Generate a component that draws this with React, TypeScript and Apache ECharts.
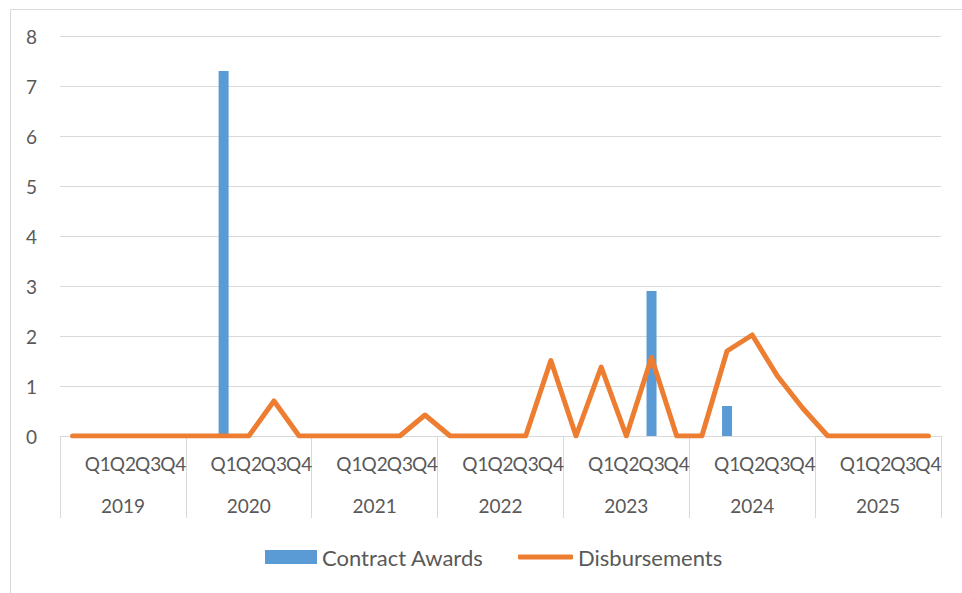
import React, { useEffect, useRef } from "react";
import * as echarts from "echarts";

const years = ["2019", "2020", "2021", "2022", "2023", "2024", "2025"];
const quarterSlots = ["", "Q1", "Q2", "Q3", "Q4"];
// 5 slots per year: a blank slot, then Q1..Q4
const contractAwards = [
  0, 0, 0, 0, 0,
  0, 7.3, 0, 0, 0,
  0, 0, 0, 0, 0,
  0, 0, 0, 0, 0,
  0, 0, 0, 2.9, 0,
  0, 0.6, 0, 0, 0,
  0, 0, 0, 0, 0,
];
const disbursements = [
  0, 0, 0, 0, 0,
  0, 0, 0, 0.7, 0,
  0, 0, 0, 0, 0.42,
  0, 0, 0, 0, 1.51,
  0, 1.38, 0, 1.57, 0,
  0, 1.7, 2.02, 1.2, 0.56,
  0, 0, 0, 0, 0,
];
const yTicks = { min: 0, max: 8, interval: 1 };

const FONT = "Lato, 'Noto Sans', sans-serif";
const TEXT = "#595959";
const GRID = "#d9d9d9";

export default function App() {
  const ref = useRef<HTMLDivElement>(null);
  useEffect(() => {
    if (!ref.current) return;
    const chart = echarts.init(ref.current, undefined, { renderer: "svg" });
    const slotLabels: string[] = [];
    years.forEach(() => quarterSlots.forEach((q) => slotLabels.push(q)));
    chart.setOption({
      animation: false,
      textStyle: { fontFamily: FONT },
      grid: { left: 60, right: 21, top: 36, bottom: 157, containLabel: false },
      legend: [
        {
          data: [{ name: "Contract Awards", icon: "rect" }],
          left: 260,
          top: 541,
          padding: 5,
          itemWidth: 52,
          itemHeight: 14,
          itemGap: 0,
          textStyle: { color: TEXT, fontSize: 22, fontFamily: FONT },
        },
        {
          data: [{ name: "Disbursements", icon: "roundRect", itemStyle: { color: "#ED7D31", borderWidth: 0 } }],
          left: 513,
          top: 541,
          padding: 5,
          itemWidth: 55,
          itemHeight: 5,
          textStyle: { color: TEXT, fontSize: 22, fontFamily: FONT },
        },
      ],
      xAxis: [
        {
          type: "category",
          data: slotLabels,
          position: "bottom",
          boundaryGap: true,
          axisLine: { show: true, lineStyle: { color: GRID, width: 1 } },
          axisTick: { show: false },
          axisLabel: { interval: 0, margin: 18, color: TEXT, fontSize: 19, fontFamily: FONT },
          splitLine: { show: false },
        },
        {
          type: "category",
          data: years,
          position: "bottom",
          boundaryGap: true,
          axisLine: { show: false },
          axisTick: { show: true, length: 82, interval: 0, lineStyle: { color: GRID, width: 1 } },
          axisLabel: { interval: 0, margin: 60, color: TEXT, fontSize: 19, fontFamily: FONT },
          splitLine: { show: false },
        },
      ],
      yAxis: {
        type: "value",
        min: yTicks.min,
        max: yTicks.max,
        interval: yTicks.interval,
        axisLine: { show: false },
        axisTick: { show: false },
        axisLabel: { color: TEXT, fontSize: 19, margin: 23, fontFamily: FONT },
        splitLine: { show: true, lineStyle: { color: GRID, width: 1 } },
      },
      series: [
        {
          name: "Contract Awards",
          type: "bar",
          xAxisIndex: 0,
          data: contractAwards,
          barWidth: 10,
          itemStyle: { color: "#5B9BD5" },
        },
        {
          name: "Disbursements",
          type: "line",
          xAxisIndex: 0,
          data: disbursements,
          symbol: "none",
          lineStyle: { color: "#ED7D31", width: 5, cap: "round", join: "round" },
          itemStyle: { color: "#ED7D31" },
        },
      ],
      graphic: [
        {
          type: "rect",
          left: 8,
          top: 7,
          shape: { x: 0, y: 0, width: 980, height: 585 },
          style: { fill: "none", stroke: GRID, lineWidth: 1 },
          silent: true,
          z: -1,
        },
      ],
    });
    return () => chart.dispose();
  }, []);
  return (
    <div
      ref={ref}
      style={{ position: "fixed", left: 0, top: 0, width: 962, height: 593, background: "#fff" }}
    />
  );
}
